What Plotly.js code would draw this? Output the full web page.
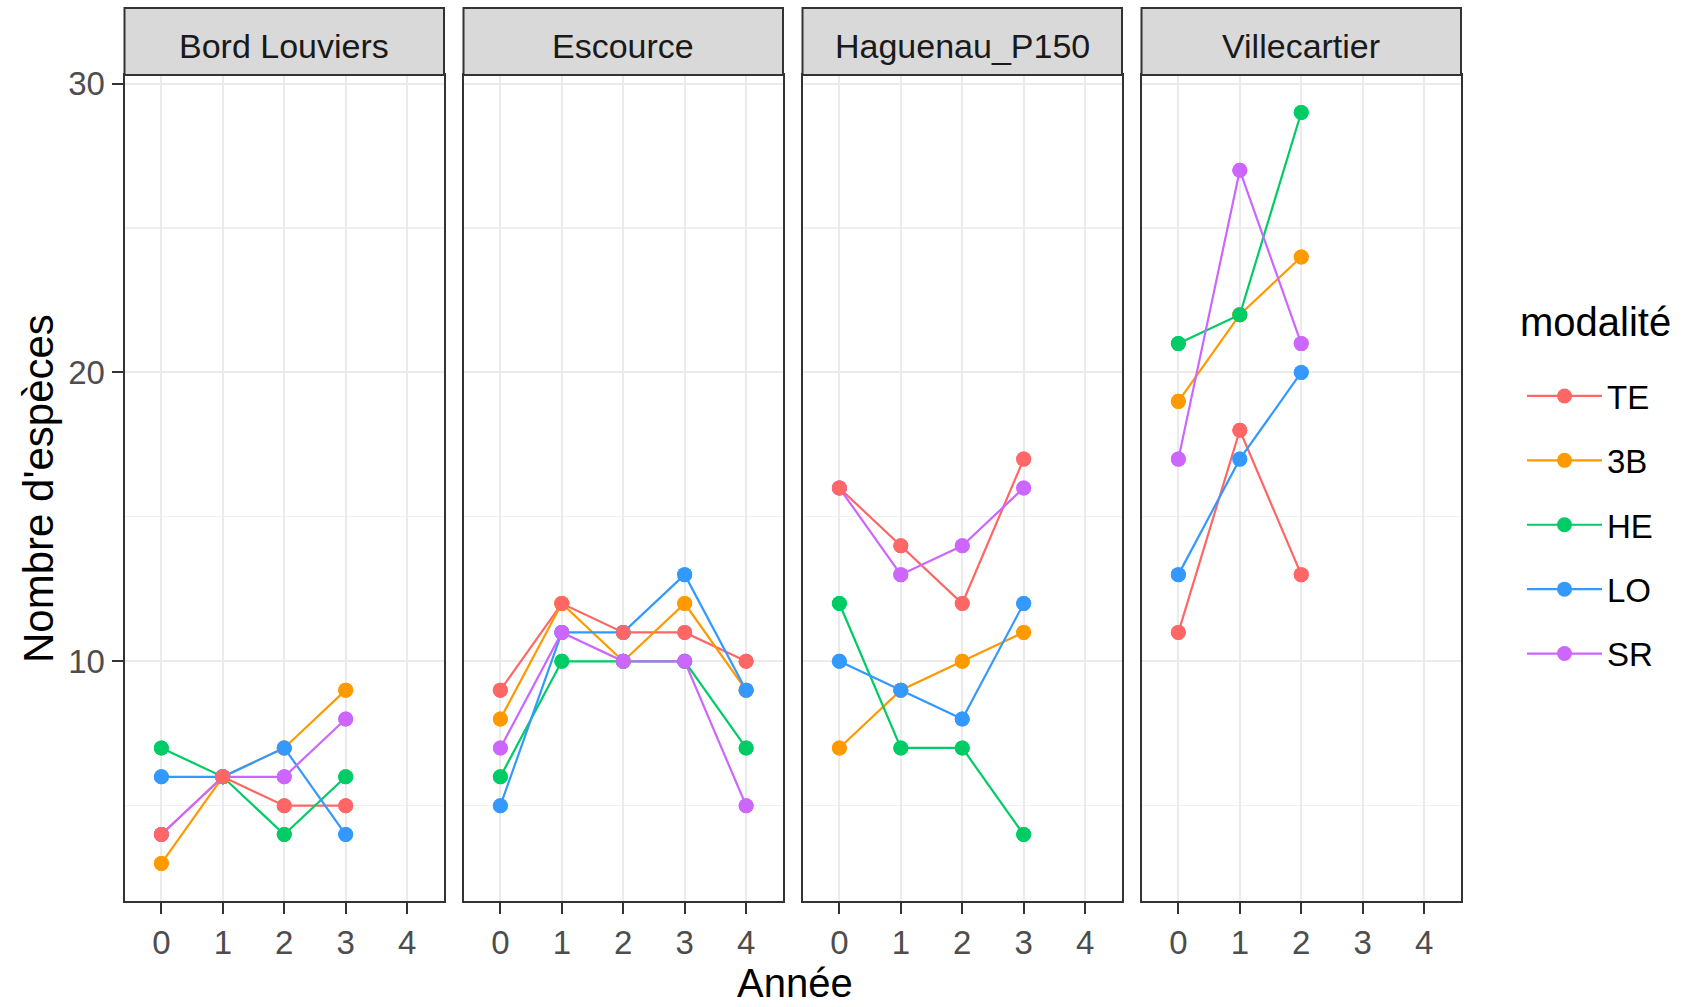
<!DOCTYPE html>
<html>
<head>
<meta charset="utf-8">
<script src="https://cdn.plot.ly/plotly-3.0.1.min.js"></script>
<style>html,body{margin:0;padding:0;background:#fff;}#chart{width:1686px;height:1007px;}</style>
</head>
<body>
<div id="chart"></div>
<script>
// ---- Data ----
const sites = ["Bord Louviers", "Escource", "Haguenau_P150", "Villecartier"];
const modalites = ["TE", "3B", "HE", "LO", "SR"];
const couleurs = ["#FF6666", "#FF9900", "#00CC66", "#3399FF", "#CC66FF"];
const anneeTicks = [0, 1, 2, 3, 4];

const anneesBordLouviers = [0, 1, 2, 3];
const bordLouviers = { TE: [4, 6, 5, 5], "3B": [3, 6, 7, 9], HE: [7, 6, 4, 6], LO: [6, 6, 7, 4], SR: [4, 6, 6, 8] };

const anneesEscource = [0, 1, 2, 3, 4];
const escource = { TE: [9, 12, 11, 11, 10], "3B": [8, 12, 10, 12, 9], HE: [6, 10, 10, 10, 7], LO: [5, 11, 11, 13, 9], SR: [7, 11, 10, 10, 5] };

const anneesHaguenau = [0, 1, 2, 3];
const haguenau = { TE: [16, 14, 12, 17], "3B": [7, 9, 10, 11], HE: [12, 7, 7, 4], LO: [10, 9, 8, 12], SR: [16, 13, 14, 16] };

const anneesVillecartier = [0, 1, 2];
const villecartier = { TE: [11, 18, 13], "3B": [19, 22, 24], HE: [21, 22, 29], LO: [13, 17, 20], SR: [17, 27, 21] };

const siteData = [
  { annees: anneesBordLouviers, valeurs: bordLouviers },
  { annees: anneesEscource, valeurs: escource },
  { annees: anneesHaguenau, valeurs: haguenau },
  { annees: anneesVillecartier, valeurs: villecartier }
];

// ---- Geometry (pixels) ----
const W = 1686, H = 1007;
const panelsPx = [[124.5, 444], [463.5, 783], [802.5, 1122], [1141.5, 1461]];
const panelTop = 75, panelBottom = 901, stripTop = 8;
const FONT = "Liberation Sans, Arial, sans-serif";

const traces = [];
// lines (group order)
siteData.forEach((s, i) => {
  const ax = i === 0 ? "" : String(i + 1);
  modalites.forEach((m, k) => {
    traces.push({
      x: s.annees, y: s.valeurs[m], type: "scatter", mode: "lines+markers",
      name: m, legendgroup: m, showlegend: i === 0,
      xaxis: "x" + ax, yaxis: "y" + ax,
      line: { color: couleurs[k], width: 2.2 },
      marker: { color: couleurs[k], size: 15 },
      hoverinfo: "skip"
    });
  });
});
// points on top (data row order)
const pointOrder = ["3B", "HE", "LO", "SR", "TE"];
siteData.forEach((s, i) => {
  const ax = i === 0 ? "" : String(i + 1);
  pointOrder.forEach(m => {
    const k = modalites.indexOf(m);
    traces.push({
      x: s.annees, y: s.valeurs[m], type: "scatter", mode: "markers",
      showlegend: false, xaxis: "x" + ax, yaxis: "y" + ax,
      marker: { color: couleurs[k], size: 15 }, hoverinfo: "skip"
    });
  });
});

const layout = {
  width: W, height: H,
  margin: { l: 0, r: 0, t: 0, b: 0 },
  paper_bgcolor: "#FFFFFF", plot_bgcolor: "#FFFFFF",
  font: { family: FONT, color: "#000000" },
  showlegend: true,
  legend: {
    x: 1522 / W, xanchor: "left", y: 1 - 368 / H, yanchor: "top",
    font: { size: 33, color: "#000000", family: FONT },
    tracegroupgap: 18.5, itemwidth: 75, bgcolor: "rgba(0,0,0,0)"
  },
  shapes: [], annotations: []
};

panelsPx.forEach((p, i) => {
  const ax = i === 0 ? "" : String(i + 1);
  layout["xaxis" + ax] = {
    domain: [p[0] / W, p[1] / W], anchor: "y" + ax,
    range: [-0.6, 4.6], tickvals: anneeTicks, ticktext: anneeTicks.map(String),
    showgrid: true, gridcolor: "#EBEBEB", gridwidth: 2, zeroline: false,
    showline: true, mirror: true, linecolor: "#333333", linewidth: 2,
    ticks: "outside", ticklen: 11, tickwidth: 2, tickcolor: "#333333",
    tickfont: { size: 33, color: "#4D4D4D", family: FONT }, fixedrange: true
  };
  layout["yaxis" + ax] = {
    domain: [1 - panelBottom / H, 1 - panelTop / H], anchor: "x" + ax,
    range: [1.7, 30.3], tickvals: [10, 20, 30],
    showgrid: true, gridcolor: "#EBEBEB", gridwidth: 2, zeroline: false,
    minor: { tickvals: [5, 15, 25], showgrid: true, gridcolor: "#F0F0F0", gridwidth: 1.2, ticks: "" },
    showline: true, mirror: true, linecolor: "#333333", linewidth: 2,
    ticks: i === 0 ? "outside" : "", ticklen: 11, tickwidth: 2, tickcolor: "#333333",
    showticklabels: i === 0,
    tickfont: { size: 33, color: "#4D4D4D", family: FONT }, fixedrange: true
  };
  // strip
  layout.shapes.push({
    type: "rect", xref: "paper", yref: "paper",
    x0: p[0] / W, x1: p[1] / W, y0: 1 - panelTop / H, y1: 1 - stripTop / H,
    fillcolor: "#D9D9D9", line: { color: "#333333", width: 2 }, layer: "above"
  });
  layout.annotations.push({
    xref: "paper", yref: "paper", x: (p[0] + p[1]) / 2 / W, y: 1 - 46 / H,
    text: sites[i], showarrow: false, xanchor: "center", yanchor: "middle",
    font: { size: 34, color: "#1A1A1A", family: FONT }
  });
});

layout.annotations.push({
  xref: "paper", yref: "paper", x: 1518 / W, y: 1 - 322 / H, text: "modalité",
  showarrow: false, xanchor: "left", yanchor: "middle",
  font: { size: 40, color: "#000000", family: FONT }
});
layout.annotations.push({
  xref: "paper", yref: "paper", x: 795 / W, y: 1 - 1007 / H, text: "Année",
  showarrow: false, xanchor: "center", yanchor: "bottom",
  font: { size: 40, color: "#000000", family: FONT }
});
layout.annotations.push({
  xref: "paper", yref: "paper", x: 38 / W, y: 1 - 489 / H, text: "Nombre d'espèces",
  showarrow: false, xanchor: "center", yanchor: "middle", textangle: -90,
  font: { size: 42, color: "#000000", family: FONT }
});

Plotly.newPlot("chart", traces, layout, { displayModeBar: false, staticPlot: true });
</script>
</body>
</html>
